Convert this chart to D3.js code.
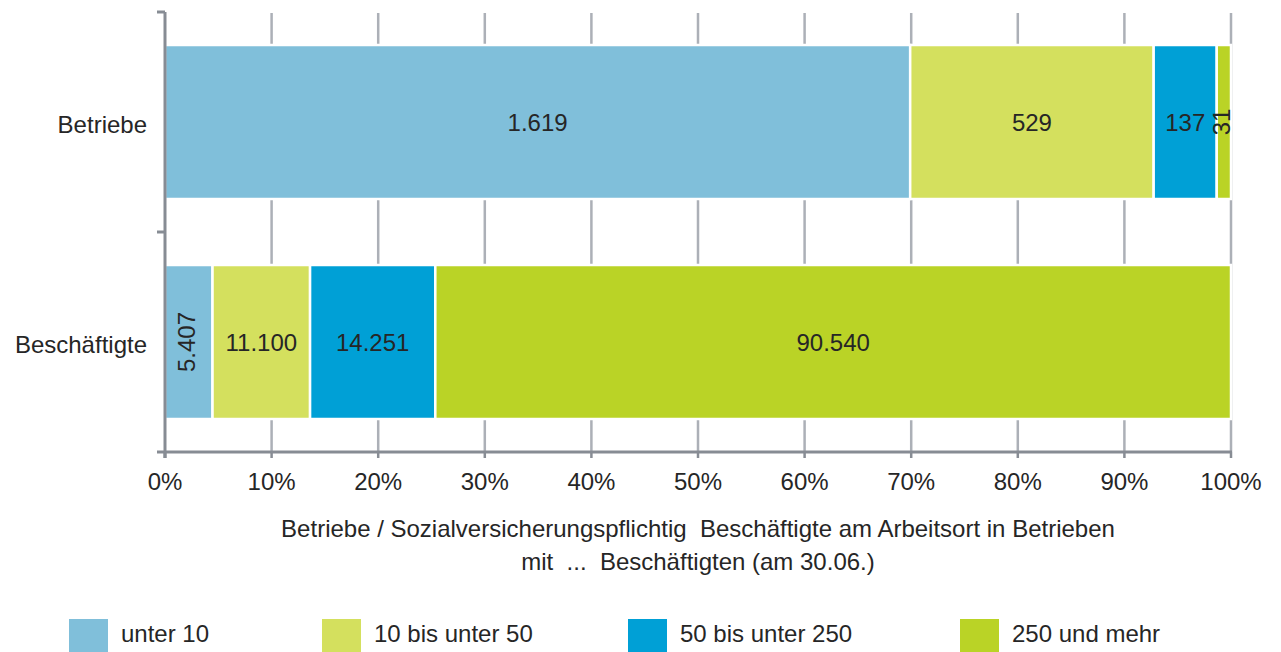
<!DOCTYPE html>
<html>
<head>
<meta charset="utf-8">
<script src="https://cdn.jsdelivr.net/npm/d3@7"></script>
<style>
  body { margin: 0; background: #fff; }
  svg text { font-family: "Liberation Sans", Arial, sans-serif; fill: #262626; white-space: pre; }
</style>
</head>
<body>
<div id="chart"></div>
<script>
// chart data
const categories = ["Betriebe", "Beschäftigte"];
const seriesNames = ["unter 10", "10 bis unter 50", "50 bis unter 250", "250 und mehr"];
const betriebe = [1619, 529, 137, 31];
const beschaeftigte = [5407, 11100, 14251, 90540];
const xTicks = [0, 10, 20, 30, 40, 50, 60, 70, 80, 90, 100];
const titleLines = ["Betriebe / Sozialversicherungspflichtig  Beschäftigte am Arbeitsort in Betrieben",
                    "mit  ...  Beschäftigten (am 30.06.)"];

const colors = ["#80bfda", "#d4e05e", "#00a0d6", "#bad326"];

const width = 1281;
const height = 652;
const margin = {left: 165, right: 50, top: 12, bottom: 200};

const svg = d3.select("#chart")
  .append("svg")
  .attr("width", width)
  .attr("height", height);

const deFormat = d3.formatLocale({decimal: ",", thousands: ".", grouping: [3], currency: ["", "€"]}).format(",d");

// build rows from the arrays
const rows = [betriebe, beschaeftigte].map((vals, r) => {
  const total = d3.sum(vals);
  let acc = 0;
  return vals.map((v, i) => {
    const seg = {cat: categories[r], series: i, value: v, x0: acc / total * 100};
    acc += v;
    seg.x1 = acc / total * 100;
    return seg;
  });
});

const xScale = d3.scaleLinear()
  .domain([0, 100])
  .range([margin.left, width - margin.right]);

const yScale = d3.scaleBand()
  .domain(categories)
  .range([margin.top, height - margin.bottom])
  .paddingInner(0.3)
  .paddingOuter(0.15);

const y0 = margin.top, y1 = height - margin.bottom;

// vertical grid lines
svg.append("g")
  .selectAll("line")
  .data(xTicks.slice(1))
  .enter()
  .append("line")
    .attr("x1", d => xScale(d))
    .attr("x2", d => xScale(d))
    .attr("y1", y0 + 1)
    .attr("y2", y1)
    .attr("stroke", "#acb0b7")
    .attr("stroke-width", 2.5);

// bars
svg.append("g")
  .selectAll("rect")
  .data(rows.flat())
  .enter()
  .append("rect")
    .attr("x", d => xScale(d.x0))
    .attr("y", d => yScale(d.cat))
    .attr("width", d => xScale(d.x1) - xScale(d.x0))
    .attr("height", yScale.bandwidth())
    .attr("fill", d => colors[d.series])
    .attr("stroke", "#fff")
    .attr("stroke-width", 2.5);

// value labels, rotated when the segment is narrow
svg.append("g")
  .selectAll("text")
  .data(rows.flat())
  .enter()
  .append("text")
    .attr("transform", d => {
      const cx = (xScale(d.x0) + xScale(d.x1)) / 2;
      const cy = yScale(d.cat) + yScale.bandwidth() / 2;
      const w = xScale(d.x1) - xScale(d.x0);
      return w < 50 ? `translate(${cx - 2},${cy}) rotate(-90)` : `translate(${cx},${cy})`;
    })
    .attr("text-anchor", "middle")
    .attr("dominant-baseline", "central")
    .attr("font-size", "24px")
    .text(d => deFormat(d.value));

// axes
const axisColor = "#878c94";

svg.append("line")
  .attr("x1", margin.left).attr("x2", margin.left)
  .attr("y1", y0).attr("y2", y1 + 6)
  .attr("stroke", axisColor).attr("stroke-width", 3);

svg.append("line")
  .attr("x1", margin.left - 8).attr("x2", xScale(100) + 1)
  .attr("y1", y1).attr("y2", y1)
  .attr("stroke", axisColor).attr("stroke-width", 3);

// y ticks (category boundaries)
svg.append("g")
  .selectAll("line")
  .data([y0, (y0 + y1) / 2])
  .enter()
  .append("line")
    .attr("x1", margin.left - 8).attr("x2", margin.left)
    .attr("y1", d => d).attr("y2", d => d)
    .attr("stroke", axisColor).attr("stroke-width", 3);

// x ticks
svg.append("g")
  .selectAll("line")
  .data(xTicks)
  .enter()
  .append("line")
    .attr("x1", d => xScale(d)).attr("x2", d => xScale(d))
    .attr("y1", y1).attr("y2", y1 + 6)
    .attr("stroke", axisColor).attr("stroke-width", d => d === 0 ? 3 : 2.5);

svg.append("g")
  .selectAll("text")
  .data(xTicks)
  .enter()
  .append("text")
    .attr("x", d => xScale(d))
    .attr("y", y1 + 29)
    .attr("text-anchor", "middle")
    .attr("dominant-baseline", "central")
    .attr("font-size", "24px")
    .text(d => d + "%");

// category labels
svg.append("g")
  .selectAll("text")
  .data(categories)
  .enter()
  .append("text")
    .attr("x", margin.left - 18)
    .attr("y", d => yScale(d) + yScale.bandwidth() / 2 + 2)
    .attr("text-anchor", "end")
    .attr("dominant-baseline", "central")
    .attr("font-size", "24px")
    .text(d => d);

// axis title
svg.append("g")
  .selectAll("text")
  .data(titleLines)
  .enter()
  .append("text")
    .attr("x", 698)
    .attr("y", (d, i) => 528 + i * 33)
    .attr("text-anchor", "middle")
    .attr("dominant-baseline", "central")
    .attr("font-size", "24px")
    .text(d => d);

// legend
const legendX = [69, 322, 628, 960];
const legend = svg.append("g")
  .selectAll("g")
  .data(seriesNames)
  .enter()
  .append("g")
    .attr("transform", (d, i) => `translate(${legendX[i]},619)`);

legend.append("rect")
  .attr("width", 39)
  .attr("height", 38)
  .attr("fill", (d, i) => colors[i]);

legend.append("text")
  .attr("x", 52)
  .attr("y", 14)
  .attr("dominant-baseline", "central")
  .attr("font-size", "24px")
  .text(d => d);
</script>
</body>
</html>
